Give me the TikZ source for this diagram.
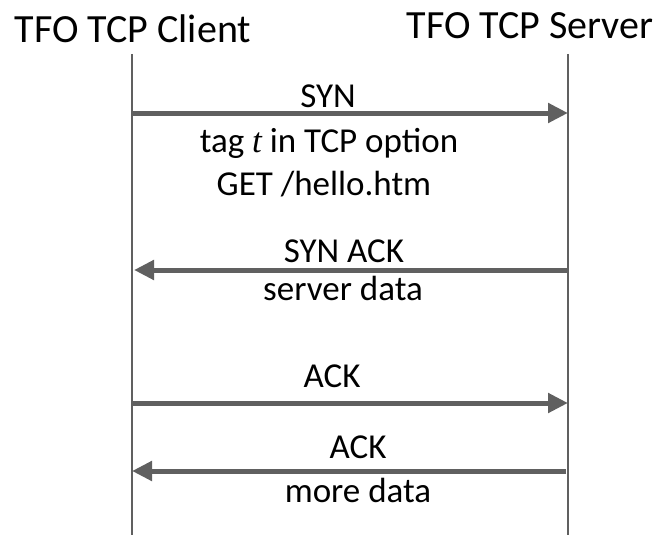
\documentclass[tikz,border=0pt]{standalone}
\usepackage{fontspec}
\setmainfont{Carlito}
\newfontfamily\tagfont{Liberation Serif}
\usetikzlibrary{positioning,arrows.meta}
\definecolor{lifegray}{RGB}{96,96,96}

\tikzset{
  lifeline/.style={draw=lifegray, line width=2.5pt},
  msg/.style={draw=lifegray, line width=5pt, -{Triangle[length=20pt,width=19pt]}},
  hostlabel/.style={font=\fontsize{40}{44}\selectfont, inner sep=0pt, anchor=base},
  msglabel/.style={font=\fontsize{35}{40}\selectfont, inner sep=0pt, anchor=base}
}

\begin{document}
\begin{tikzpicture}[x=1pt, y=-1pt]
\useasboundingbox (0,0) rectangle (658,535);

% Hosts
\node[hostlabel] (client) at (133,43) {TFO TCP Client};
\node[hostlabel] (server) at (530,38) {TFO TCP Server};

\coordinate (ctop) at (132,54);
\coordinate (cbot) at (132,535);
\coordinate (stop) at (568,54);
\coordinate (sbot) at (568,535);

% Lifelines
\draw[lifeline] (ctop) -- (cbot);
\draw[lifeline] (stop) -- (sbot);

% SYN
\coordinate (c1) at (132,113);
\coordinate (s1) at (568,113);
\draw[msg] (c1) -- (s1);
\node[msglabel] (syn) at (328,107) {SYN};
\node[msglabel] (tag) at (329,152) {tag {\tagfont\itshape t} in TCP option};
\node[msglabel] (get) at (324,195) {GET /hello.htm};

% SYN ACK
\coordinate (c2) at (134,270);
\coordinate (s2) at (568,270);
\draw[msg] (s2) -- (c2);
\node[msglabel] (synack) at (344,262) {SYN ACK};
\node[msglabel] (sdata) at (343,300) {server data};

% ACK
\coordinate (c3) at (132,403);
\coordinate (s3) at (568,403);
\draw[msg] (c3) -- (s3);
\node[msglabel] (ack) at (332,387) {ACK};

% ACK with data
\coordinate (c4) at (132,471);
\coordinate (s4) at (566,471);
\draw[msg] (s4) -- (c4);
\node[msglabel] (ack2) at (358,458) {ACK};
\node[msglabel] (more) at (358,502) {more data};

\end{tikzpicture}
\end{document}
